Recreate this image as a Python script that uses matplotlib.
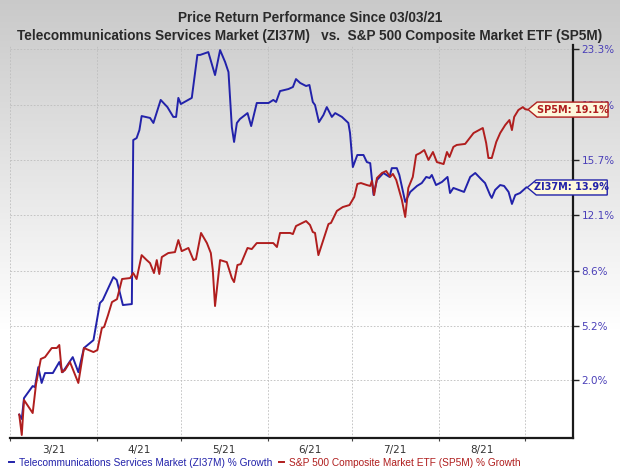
"""
Price return chart: Telecommunications Services Market vs S&P 500 since 03/03/21.
"""

import numpy as np
import matplotlib

matplotlib.use("Agg")

import matplotlib.pyplot as plt
from matplotlib.patches import Polygon

# x = days since 2021-03-01, y = price return in %
zi37m_days = [
    3.3, 4.2, 5.0, 8.1, 8.9, 10.1, 11.3, 12.5, 15.3, 17.6, 18.8, 22.4, 24.4,
    26.4, 29.8, 32.1, 33.1, 36.9, 38.1, 40.3, 43.5, 44.0, 45.2, 46.2, 47.0,
    50.0, 51.2, 53.8, 56.2, 58.3, 59.3, 60.1, 61.0, 64.9, 66.9, 67.9, 70.8,
    73.2, 75.0, 76.8, 78.0, 79.2, 80.0, 81.0, 82.1, 84.8, 86.1, 88.1, 92.3,
    94.0, 95.0, 96.4, 99.4, 101.0, 102.1, 103.6, 105.7, 106.9, 108.1, 108.9,
    110.3, 111.9, 113.1, 114.9, 116.1, 118.5, 120.8, 121.4, 122.4, 124.0,
    126.2, 127.4, 128.6, 129.8, 131.0, 133.3, 135.5, 136.3, 138.1, 139.0,
    141.1, 142.9, 145.3, 147.0, 148.6, 149.8, 150.6, 152.1, 154.2, 156.2,
    157.1, 158.3, 162.1, 164.3, 166.1, 168.5, 169.6, 171.4, 172.0, 173.2,
    175.0, 176.4, 178.0, 179.2, 180.4, 182.1, 184.3,
]
zi37m_pct = [
    0.0, -0.25, 0.95, 1.65, 1.59, 2.76, 1.83, 2.41, 2.41, 3.06, 2.46, 3.35,
    2.46, 3.89, 4.36, 6.60, 6.78, 8.20, 8.02, 6.48, 6.54, 17.04, 17.17, 17.71,
    18.66, 18.53, 18.19, 19.76, 19.27, 18.60, 18.60, 19.90, 19.48, 19.90,
    22.89, 22.89, 23.09, 21.48, 23.23, 22.39, 21.69, 17.91, 16.91, 18.19,
    18.46, 18.86, 17.98, 19.55, 19.55, 19.76, 19.62, 20.37, 20.51, 20.65,
    21.20, 20.93, 20.72, 20.79, 19.62, 19.41, 18.25, 18.73, 19.27, 18.60,
    18.86, 18.60, 18.19, 17.51, 15.24, 16.04, 16.04, 15.57, 15.50, 13.41,
    14.39, 14.85, 14.59, 15.17, 15.17, 14.72, 12.96, 13.61, 14.00, 14.19,
    14.59, 14.52, 14.72, 14.06, 14.26, 14.59, 13.54, 13.87, 13.61, 14.59,
    14.85, 14.39, 14.19, 13.41, 13.22, 13.74, 14.06, 14.00, 13.61, 12.83,
    13.41, 13.54, 13.90,
]

sp5m_days = [
    3.3, 4.2, 5.0, 8.1, 9.3, 11.0, 12.5, 14.9, 16.7, 17.6, 18.5, 19.6, 21.4,
    24.4, 26.4, 29.8, 31.2, 32.8, 33.6, 35.0, 36.4, 38.2, 40.0, 42.9, 44.0,
    45.2, 47.0, 48.8, 50.0, 51.4, 52.4, 53.3, 54.2, 56.5, 58.9, 60.1, 61.3,
    63.7, 65.5, 66.4, 68.2, 70.3, 71.7, 72.4, 73.2, 75.0, 77.4, 79.2, 80.0,
    81.2, 82.4, 84.8, 86.3, 88.1, 94.0, 95.3, 96.4, 100.0, 101.0, 102.1,
    105.7, 107.1, 108.1, 108.9, 110.1, 113.7, 114.6, 116.7, 118.8, 121.2,
    122.9, 124.0, 125.3, 127.4, 128.6, 129.2, 130.0, 131.0, 132.8, 134.3,
    135.7, 136.7, 137.9, 139.9, 141.1, 142.2, 143.8, 145.0, 146.4, 147.9,
    149.4, 151.0, 152.4, 154.8, 156.0, 156.9, 158.3, 159.5, 162.5, 165.5,
    168.8, 170.0, 170.8, 172.0, 173.6, 175.0, 176.8, 178.3, 179.2, 180.0,
    181.5, 183.1, 183.9, 184.6,
]
sp5m_pct = [
    0.0, -1.16, 0.84, 0.09, 1.77, 3.24, 3.35, 3.89, 3.89, 4.07, 2.46, 2.58,
    3.06, 1.83, 3.89, 3.65, 3.77, 5.09, 5.15, 5.87, 6.66, 6.84, 8.08, 8.14,
    8.45, 8.08, 9.57, 9.26, 9.07, 8.45, 9.26, 8.39, 9.45, 9.70, 9.76, 10.52,
    9.82, 10.02, 9.26, 9.32, 10.97, 10.33, 9.70, 8.63, 6.42, 9.26, 9.13,
    8.14, 7.89, 8.95, 9.01, 10.02, 9.95, 10.33, 10.33, 10.08, 10.97, 10.97,
    10.90, 11.41, 11.73, 11.48, 11.03, 10.97, 9.57, 11.54, 11.61, 12.38,
    12.63, 12.76, 13.28, 14.13, 14.19, 14.06, 14.00, 14.33, 13.41, 14.52,
    14.85, 14.98, 14.59, 14.79, 14.39, 13.09, 11.99, 13.87, 14.59, 16.04,
    16.17, 16.37, 15.71, 16.24, 15.57, 15.44, 16.24, 15.91, 16.58, 16.71,
    16.78, 17.51, 17.85, 16.84, 15.84, 15.84, 16.91, 17.51, 18.05, 18.39,
    17.71, 18.60, 19.07, 19.27, 19.13, 19.10,
]

y_ticks = [2.0, 5.2, 8.6, 12.1, 15.7, 19.4, 23.3]
month_starts = [0, 31, 61, 92, 122, 153, 184]
month_labels = ["3/21", "4/21", "5/21", "6/21", "7/21", "8/21"]

series_names = [
    "Telecommunications Services Market (ZI37M) % Growth",
    "S&P 500 Composite Market ETF (SP5M) % Growth",
]
tag_names = ["ZI37M", "SP5M"]

BLUE = "#2222aa"
RED = "#b01e1e"


def to_log(pct):
    """Zacks charts use a log scale of growth (1 + r)."""
    return np.log1p(np.asarray(pct, dtype=float) / 100.0)


W, H = 620, 472
fig = plt.figure(figsize=(W / 100, H / 100), dpi=100)

# background gradient: grey at the top fading to white
bg = fig.add_axes([0, 0, 1, 1], zorder=-10)
grad_h = 330
grad = np.ones((H, 1))
ramp = np.linspace(0.0, 1.0, grad_h)
grad[:grad_h, 0] = 0.79 + 0.21 * ramp
bg.imshow(np.dstack([grad, grad, grad]), aspect="auto", extent=[0, 1, 0, 1])
bg.axis("off")

ax = fig.add_axes([10 / W, (H - 438) / H, 563 / W, 393 / H])
ax.set_facecolor("none")

ax.plot(zi37m_days, to_log(zi37m_pct), color=BLUE, linewidth=1.4, label=series_names[0])
ax.plot(sp5m_days, to_log(sp5m_pct), color=RED, linewidth=1.4, label=series_names[1])

ax.set_xlim(0, 201)
ax.set_ylim(-0.0134, 0.2118)

ax.set_yticks(to_log(y_ticks))
ax.set_yticklabels([f"{t:.1f}%" for t in y_ticks])
ax.yaxis.tick_right()
ax.tick_params(axis="y", colors="#222222", labelcolor="#4a3fb8", labelsize=7.5,
               length=4, width=1, pad=2)

ax.set_xticks(month_starts)
ax.set_xticklabels([])
mids = [(a + b) / 2 for a, b in zip(month_starts[:-1], month_starts[1:])]
ax.set_xticks(mids, minor=True)
ax.set_xticklabels(month_labels, minor=True)
ax.tick_params(axis="x", which="major", length=2, color="#444444")
ax.tick_params(axis="x", which="minor", length=0, labelsize=7.5,
               labelcolor="#333333", pad=5)

ax.grid(True, which="major", color="#bdbdbd", linestyle=(0, (2, 2)), linewidth=0.6)

for side in ["left", "top"]:
    ax.spines[side].set_visible(False)
for side in ["right", "bottom"]:
    ax.spines[side].set_color("#1a1a1a")
    ax.spines[side].set_linewidth(1.6)

# end-of-line value tags with a pointed left side
fig.canvas.draw()
for days, pct, name, color in [
    (zi37m_days, zi37m_pct, tag_names[0], BLUE),
    (sp5m_days, sp5m_pct, tag_names[1], RED),
]:
    tx, ty = ax.transData.transform((days[-1], to_log(pct[-1])))
    tx += 1
    w, h, nose = 80, 7.5, 9
    verts = [(tx, ty), (tx + nose, ty + h), (tx + w, ty + h),
             (tx + w, ty - h), (tx + nose, ty - h)]
    tag = Polygon(verts, closed=True, facecolor="#fdf8dc", edgecolor=color,
                  linewidth=1.0, transform=None, zorder=6, clip_on=False)
    fig.patches.append(tag)
    fig.text((tx + nose / 2 + w / 2) / W, ty / H, f"{name}: {pct[-1]:.1f}%",
             color=color, fontsize=7, fontweight="bold", ha="center",
             va="center", zorder=7)

# titles
fig.text(0.5, 1 - 18 / H, "Price Return Performance Since 03/03/21",
         ha="center", va="center", fontsize=9.8, color="#2a2a2a",
         family="Liberation Sans", fontweight="bold")
fig.text(0.5, 1 - 36 / H,
         "Telecommunications Services Market (ZI37M)   vs.  S&P 500 Composite Market ETF (SP5M)",
         ha="center", va="center", fontsize=9.8, color="#2a2a2a",
         family="Liberation Sans", fontweight="bold")

fig.legend(loc="center left", bbox_to_anchor=(0.0, 1 - 463 / H), ncol=2,
           frameon=False, handlelength=0.5, handletextpad=0.5,
           columnspacing=0.6, labelcolor="linecolor",
           prop={"family": "Liberation Sans", "size": 7.3})

fig.savefig("out.png", dpi=100)
plt.close(fig)
